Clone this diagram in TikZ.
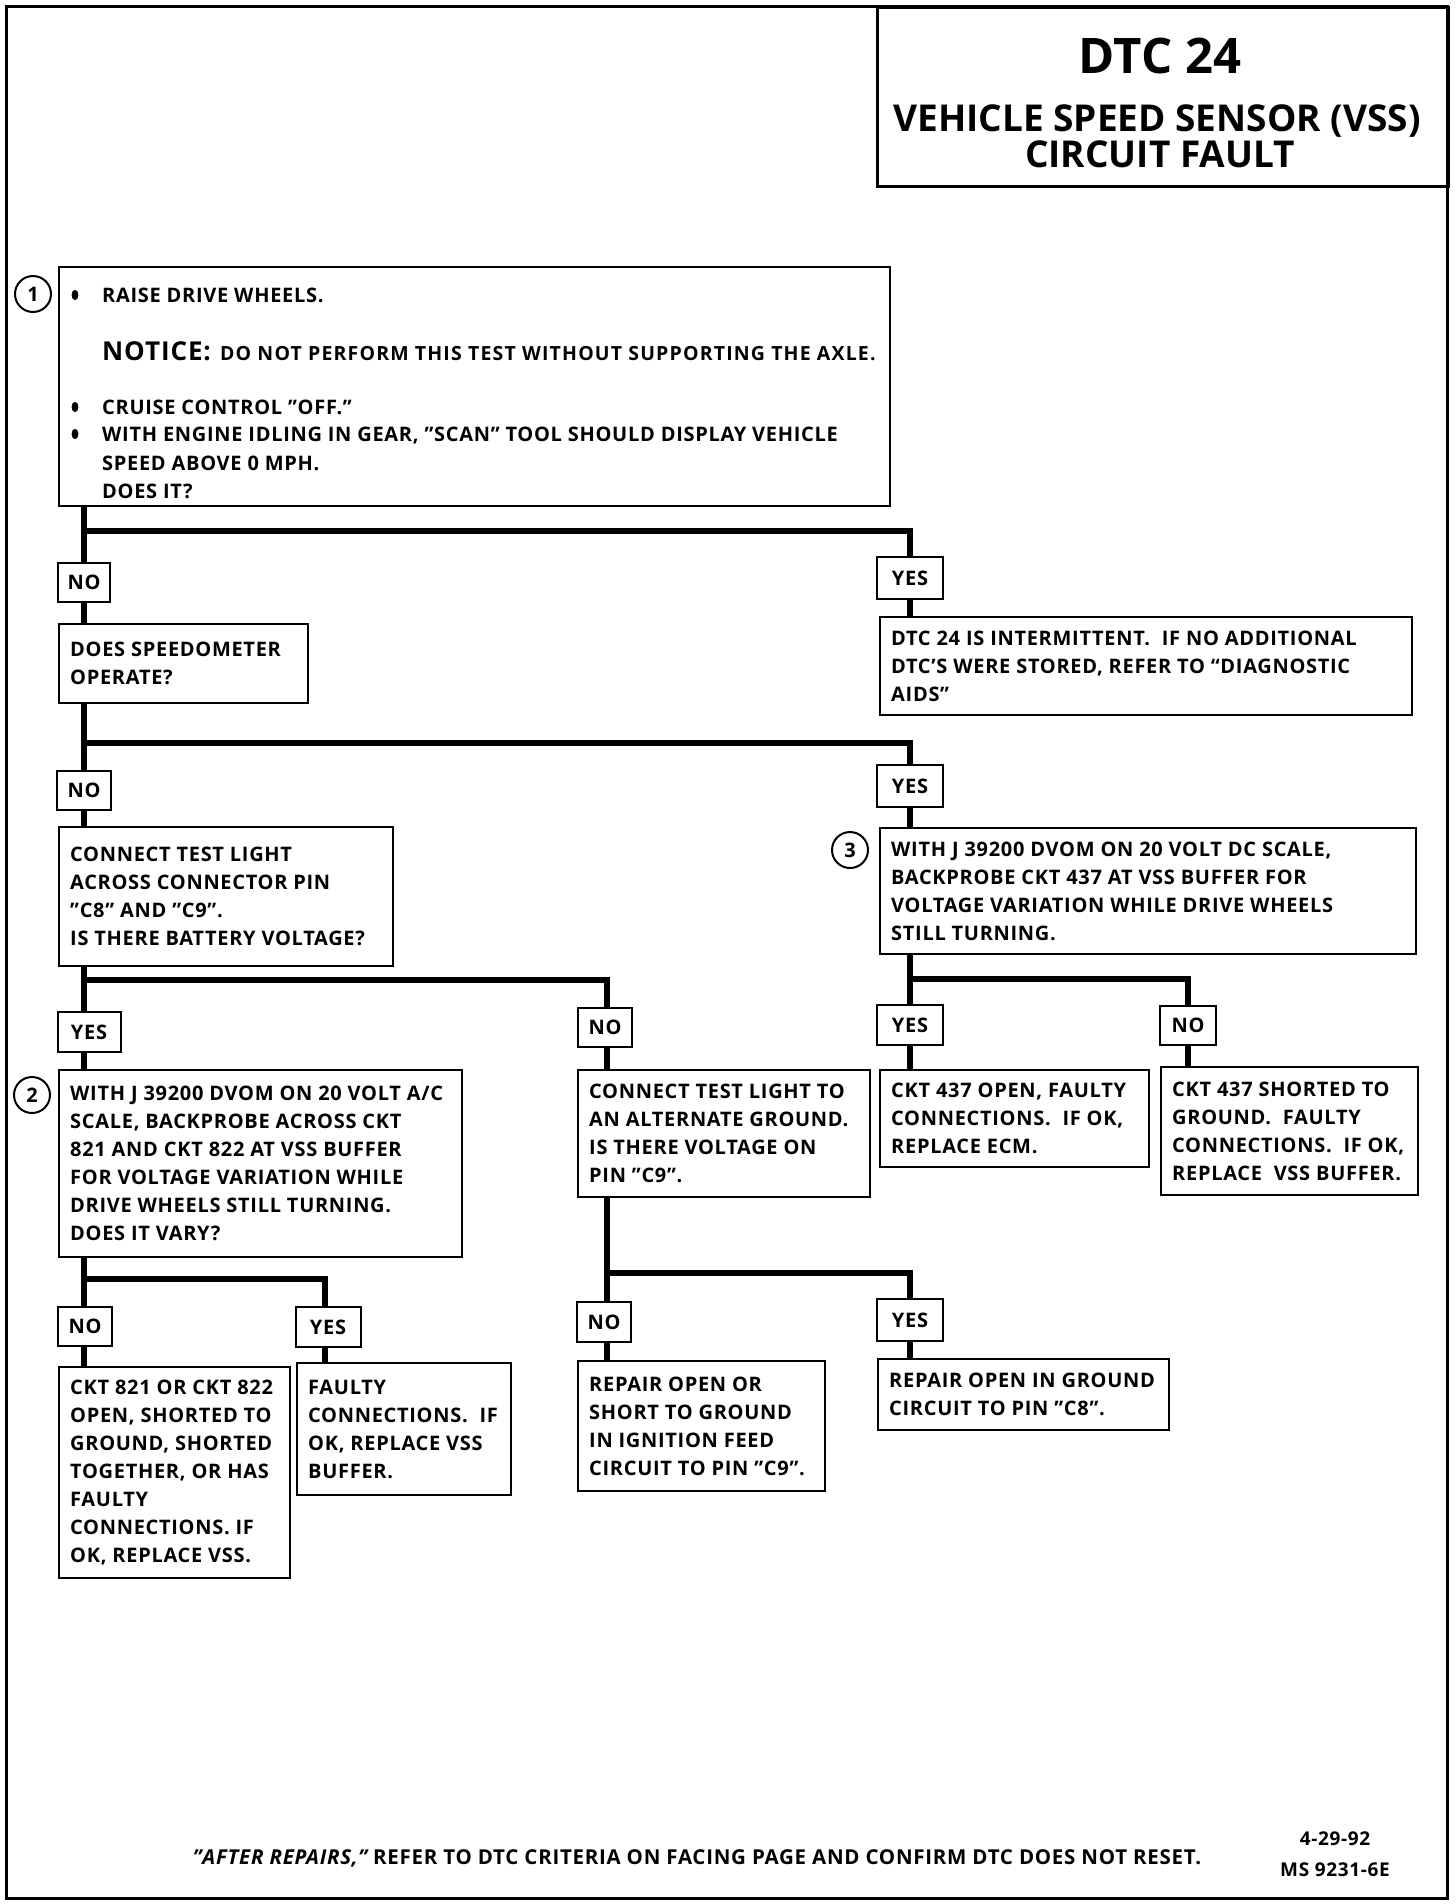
\documentclass[tikz,border=0pt]{standalone}
\usepackage{fontspec}
\setmainfont{Open Sans}
\newfontfamily\bodyf{Open Sans}[LetterSpace=3.5]
\newfontfamily\notef{Open Sans}[LetterSpace=6]
\begin{document}
\begin{tikzpicture}[x=1pt,y=-1pt,
  box/.style={draw, line width=2pt, inner sep=0pt},
  tx/.style={font=\bodyf\bfseries\fontsize{20}{28}\selectfont, align=left, inner sep=0pt},
  yn/.style={draw, line width=2pt, inner sep=0pt, font=\bodyf\bfseries\fontsize{20}{24}\selectfont},
  conn/.style={line width=6pt},
  num/.style={draw, circle, line width=2pt, minimum size=36pt, inner sep=0pt, font=\bfseries\fontsize{20}{24}\selectfont},
  bl/.style={font=\bodyf\bfseries\fontsize{20}{28}\selectfont, inner sep=0pt, anchor=base west}]
\newcommand\tbox[6]{%
  \node[box, minimum width=#4pt, minimum height=#5pt, anchor=north west] (#1) at (#2,#3) {};
  \node[tx, anchor=west] (#1t) at ([xshift=12pt]#1.west) {#6};}
\newcommand\ynbox[6]{%
  \node[yn, minimum width=#4pt, minimum height=#5pt] (#1) at (#2,#3) {#6};}
\useasboundingbox (0,0) rectangle (1456,1904);
% outer frame and title
\draw[line width=3pt] (6,6) rectangle (1447,1898);
\node[box, line width=2.5pt, minimum width=571pt, minimum height=179pt, anchor=north west] (title) at (876,6) {};
\node[font=\bfseries\fontsize{49}{55}\selectfont, inner sep=0pt, anchor=base] (t1) at (1160,73) {DTC 24};
\node[font=\bfseries\fontsize{37}{44}\selectfont, inner sep=0pt, anchor=base] (t2) at (1157,131) {VEHICLE SPEED SENSOR (VSS)};
\node[font=\bfseries\fontsize{37}{44}\selectfont, inner sep=0pt, anchor=base] (t3) at (1160,167) {CIRCUIT FAULT};
% box 1
\node[box, minimum width=831pt, minimum height=239pt, anchor=north west] (b1) at (58,266) {};
\node[num] (c1) at (33,294) {1};
\fill (75,295) ellipse (3.4pt and 5.2pt);
\node[bl] (l1) at (102,302) {RAISE DRIVE WHEELS.};
\node[bl] (l2) at (102,360) {{\fontsize{26}{30}\selectfont NOTICE:}\ \,{\notef\fontsize{19.5}{28}\selectfont DO NOT PERFORM THIS TEST WITHOUT SUPPORTING THE AXLE.}};
\fill (75,407) ellipse (3.4pt and 5.2pt);
\node[bl] (l3) at (102,414) {CRUISE CONTROL ”OFF.”};
\fill (75,434) ellipse (3.4pt and 5.2pt);
\node[bl] (l4) at (102,441) {WITH ENGINE IDLING IN GEAR, ”SCAN” TOOL SHOULD DISPLAY VEHICLE};
\node[bl] (l5) at (102,470) {SPEED ABOVE 0 MPH.};
\node[bl] (l6) at (102,498) {DOES IT?};
% level 1
\coordinate (j1) at (84,531);
\ynbox{no1}{84}{582}{52}{39}{NO}
\ynbox{yes1}{910}{578}{66}{42}{YES}
\tbox{spd}{58}{623}{249}{79}{DOES SPEEDOMETER\\OPERATE?}
\tbox{inter}{879}{616}{532}{98}{DTC 24 IS INTERMITTENT.\ \ IF NO ADDITIONAL\\DTC’S WERE STORED, REFER TO “DIAGNOSTIC\\AIDS”}
\draw[conn] (b1.south -| j1) -- (no1.north -| j1);
\draw[conn] (j1) -| (yes1.north);
\draw[conn] (no1.south -| j1) -- (spd.north -| j1);
\draw[conn] (yes1.south) -- (yes1.south |- inter.north);
% level 2
\coordinate (j2) at (84,743);
\ynbox{no2}{84}{790}{54}{39}{NO}
\ynbox{yes2}{910}{786}{66}{42}{YES}
\tbox{ctl}{58}{826}{334}{139}{CONNECT TEST LIGHT\\ACROSS CONNECTOR PIN\\”C8” AND ”C9”.\\IS THERE BATTERY VOLTAGE?}
\tbox{b3}{879}{827}{536}{126}{WITH J 39200 DVOM ON 20 VOLT DC SCALE,\\BACKPROBE CKT 437 AT VSS BUFFER FOR\\VOLTAGE VARIATION WHILE DRIVE WHEELS\\STILL TURNING.}
\node[num] (c3) at (850,850) {3};
\draw[conn] (spd.south -| j2) -- (no2.north -| j2);
\draw[conn] (j2) -| (yes2.north);
\draw[conn] (no2.south -| j2) -- (ctl.north -| j2);
\draw[conn] (yes2.south) -- (yes2.south |- b3.north);
% level 3 left
\coordinate (j3) at (84,980);
\ynbox{yes3}{89}{1032}{63}{40}{YES}
\ynbox{no3}{605}{1027}{54}{39}{NO}
\tbox{b2}{58}{1069}{403}{187}{WITH J 39200 DVOM ON 20 VOLT A/C\\SCALE, BACKPROBE ACROSS CKT\\821 AND CKT 822 AT VSS BUFFER\\FOR VOLTAGE VARIATION WHILE\\DRIVE WHEELS STILL TURNING.\\DOES IT VARY?}
\tbox{alt}{577}{1069}{292}{127}{CONNECT TEST LIGHT TO\\AN ALTERNATE GROUND.\\IS THERE VOLTAGE ON\\PIN ”C9”.}
\node[num] (c2) at (32,1095) {2};
\coordinate (j3r) at (607,980);
\draw[conn] (ctl.south -| j3) -- (yes3.north -| j3);
\draw[conn] (j3) -| (no3.north -| j3r);
\draw[conn] (yes3.south -| j3) -- (b2.north -| j3);
\draw[conn] (no3.south -| j3r) -- (alt.north -| j3r);
% level 3 right
\coordinate (j4) at (910,979);
\ynbox{yes4}{910}{1025}{66}{40}{YES}
\ynbox{no4}{1188}{1025}{56}{39}{NO}
\tbox{o437}{879}{1069}{269}{97}{CKT 437 OPEN, FAULTY\\CONNECTIONS.\ \ IF OK,\\REPLACE ECM.}
\tbox{s437}{1160}{1066}{257}{128}{CKT 437 SHORTED TO\\GROUND.\ \ FAULTY\\CONNECTIONS.\ \ IF OK,\\REPLACE\ \ VSS BUFFER.}
\draw[conn] (b3.south -| j4) -- (yes4.north);
\draw[conn] (j4) -| (no4.north);
\draw[conn] (yes4.south) -- (yes4.south |- o437.north);
\draw[conn] (no4.south) -- (no4.south |- s437.north);
% level 4 left
\coordinate (j5) at (84,1279);
\coordinate (j5r) at (325,1279);
\ynbox{no5}{85}{1326}{54}{39}{NO}
\ynbox{yes5}{328}{1327}{65}{40}{YES}
\tbox{c821}{58}{1366}{231}{211}{CKT 821 OR CKT 822\\OPEN, SHORTED TO\\GROUND, SHORTED\\TOGETHER, OR HAS\\FAULTY\\CONNECTIONS. IF\\OK, REPLACE VSS.}
\tbox{faulty}{296}{1362}{214}{132}{FAULTY\\CONNECTIONS.\ \ IF\\OK, REPLACE VSS\\BUFFER.}
\draw[conn] (b2.south -| j5) -- (no5.north -| j5);
\draw[conn] (j5) -| (yes5.north -| j5r);
\draw[conn] (no5.south -| j5) -- (c821.north -| j5);
\draw[conn] (yes5.south -| j5r) -- (faulty.north -| j5r);
% level 4 middle
\coordinate (j6) at (607,1273);
\coordinate (j6r) at (910,1273);
\ynbox{no6}{604}{1322}{54}{40}{NO}
\ynbox{yes6}{910}{1320}{66}{42}{YES}
\tbox{rep1}{577}{1360}{247}{130}{REPAIR OPEN OR\\SHORT TO GROUND\\IN IGNITION FEED\\CIRCUIT TO PIN ”C9”.}
\tbox{rep2}{877}{1358}{291}{71}{REPAIR OPEN IN GROUND\\CIRCUIT TO PIN ”C8”.}
\draw[conn] (alt.south -| j6) -- (no6.north -| j6);
\draw[conn] (j6) -| (yes6.north);
\draw[conn] (no6.south -| j6) -- (rep1.north -| j6);
\draw[conn] (yes6.south) -- (yes6.south |- rep2.north);
% footer
\node[font=\bodyf\bfseries\fontsize{20.5}{24}\selectfont, inner sep=0pt] (foot) at (697,1858) {{\itshape ”AFTER REPAIRS,”} REFER TO DTC CRITERIA ON FACING PAGE AND CONFIRM DTC DOES NOT RESET.};
\node[font=\bodyf\bfseries\fontsize{19}{31}\selectfont, inner sep=0pt, align=center] (date) at (1335,1854) {4-29-92\\MS 9231-6E};
\end{tikzpicture}
\end{document}
